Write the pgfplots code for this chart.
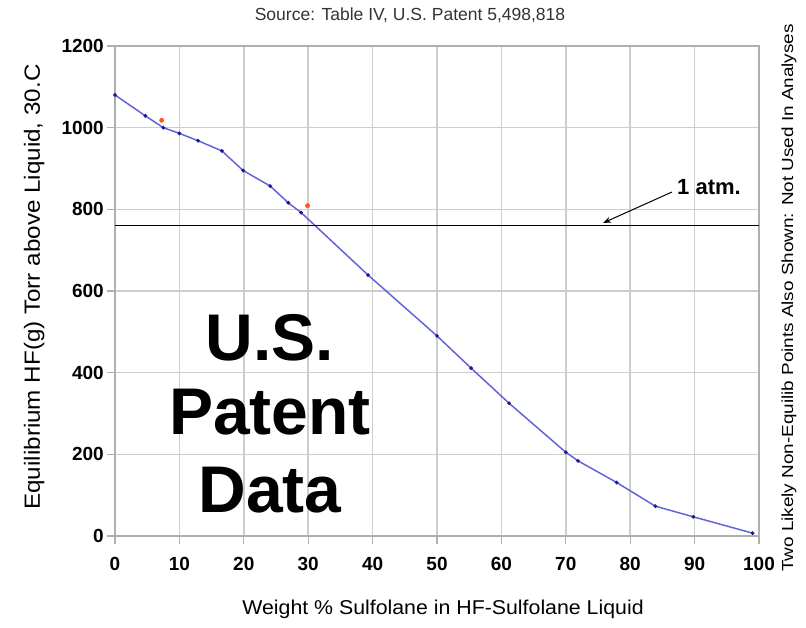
\documentclass[border=0pt]{standalone}
\usepackage{pgfplots}
\pgfplotsset{compat=1.18}
\usepackage{graphicx}
\usepackage{fontspec}
\setmainfont{Liberation Sans}
\usetikzlibrary{arrows.meta}
\definecolor{gridgray}{RGB}{205,205,205}
\definecolor{axisgray}{RGB}{175,175,175}
\definecolor{curveblue}{RGB}{100,100,215}
\definecolor{markblue}{RGB}{25,25,150}
\definecolor{ptred}{RGB}{255,85,40}
\begin{document}
\begin{tikzpicture}[x=1bp,y=1bp]
\begin{axis}[
  at={(0,0)}, anchor=south west,
  scale only axis, width=644bp, height=490bp,
  xmin=0, xmax=100, ymin=0, ymax=1200,
  xtick={0,10,...,100}, ytick={0,200,...,1200},
  grid=major, grid style={gridgray, line width=1.6bp},
  axis line style={axisgray, line width=1.6bp},
  tick style={axisgray, line width=1.2bp},
  tick align=outside, major tick length=8bp,
  xtick pos=bottom, ytick pos=left,
  ticklabel style={font=\fontsize{19bp}{22bp}\selectfont\bfseries},
  /pgf/number format/assume math mode=true,
  /pgf/number format/1000 sep={},
  xticklabel style={anchor=north, inner sep=0pt, yshift=-13bp},
  yticklabel style={anchor=east, inner sep=0pt, xshift=-3bp},
  clip=false,
]
\addplot[curveblue, line width=1.5bp, mark=*, mark size=1.0bp,
  mark options={draw=markblue, fill=markblue}] coordinates {
  (0,1080) (4.7,1029) (7.5,1000) (10,986) (12.9,968) (16.6,943)
  (19.9,895) (24.1,857) (26.9,816) (28.9,792) (39.3,639) (50,490)
  (55.3,411) (61.2,325) (70,205) (71.9,184) (77.9,131) (83.9,73)
  (89.8,47) (99,7)};
\addplot[only marks, mark=*, mark size=2.2bp, ptred,
  mark options={draw=ptred, fill=ptred}] coordinates {(7.25,1018) (29.9,809)};
\addplot[black, line width=1.3bp] coordinates {(0,760) (100,760)};
\end{axis}
\node[font=\fontsize{17.5bp}{20bp}\selectfont, text=black!80, anchor=base] at (295,515) {Source: Table IV, U.S. Patent 5,498,818};
\node[rotate=90, anchor=base, font=\fontsize{22bp}{24bp}\selectfont] at (-75,249) {\scalebox{1.1}[1]{Equilibrium HF(g) Torr above Liquid, 30.C}};
\node[anchor=base, font=\fontsize{20bp}{22bp}\selectfont] at (328,-79) {\scalebox{1.066}[1]{Weight \% Sulfolane in HF-Sulfolane Liquid}};
\node[rotate=90, anchor=base, font=\fontsize{16bp}{18bp}\selectfont] at (678,238) {\scalebox{1.18}[1]{Two Likely Non-Equilib Points Also Shown: Not Used In Analyses}};
\node[font=\fontsize{66bp}{76bp}\selectfont\bfseries, anchor=base] at (155,175) {U.S.};
\node[font=\fontsize{66bp}{76bp}\selectfont\bfseries, anchor=base] at (155,101) {Patent};
\node[font=\fontsize{66bp}{76bp}\selectfont\bfseries, anchor=base] at (155,23) {Data};
\node[anchor=base west, inner sep=0pt, font=\fontsize{22bp}{24bp}\selectfont\bfseries] at (562,341) {1 atm.};
\draw[-{Stealth[length=8bp,width=6bp]}, line width=1bp] (557,344) -- (488,313);
\pgfresetboundingbox
\path[use as bounding box] (-115,-92) rectangle (691,536);
\end{tikzpicture}
\end{document}
